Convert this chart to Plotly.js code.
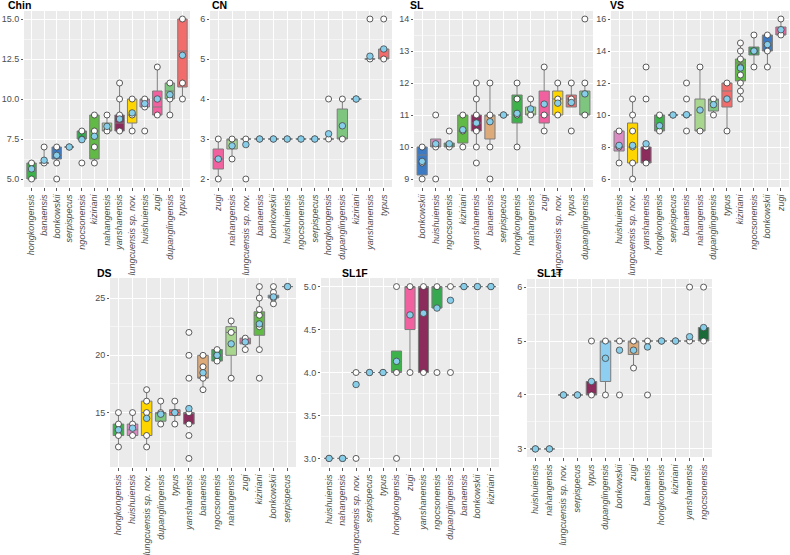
<!DOCTYPE html>
<html><head><meta charset="utf-8">
<script src="https://cdn.plot.ly/plotly-3.0.1.min.js"></script>
<style>html,body{margin:0;padding:0;background:#fff}#chart{width:790px;height:555px}</style>
</head><body><div id="chart"></div>
<script>
// ---------------- DATA ----------------
const chinCats = ['hongkongensis','banaensis','bonkowskii','serpispecus','ngocsonensis','kiziriani','nahangensis','yanshanensis','lungcuensis sp. nov.','huishuiensis','zugi','dupanglingensis','typus'];
const chinQ1   = [5, 6, 6.25, 7, 7.5, 6.25, 8, 8, 8.5, 9.5, 9, 10, 10.75];
const chinMed  = [5.5, 6, 6.5, 7, 8, 8, 8, 8.5, 9, 10, 9.5, 10.5, 13];
const chinQ3   = [6, 6, 7, 7, 8, 9, 8.5, 9, 10, 10, 10.5, 11, 15];
const chinLo   = [5, 6, 6, 7, 7.5, 6, 8, 8, 8, 9.5, 9, 9, 10];
const chinHi   = [6, 7, 7, 7, 8, 9, 9, 11, 10, 10, 12, 11, 15];
const chinMean = [5.63, 6.17, 6.48, 7, 7.46, 7.67, 8.29, 8.75, 9.13, 9.71, 10, 10.27, 12.73];
const chinPts  = [[5,6],[6,7],[5,6,7],[7],[6,7.5,8],[6,7,8,9],[8,9],[8,9,10,11],[8,9,10],[8,9.5,10],[9,12],[9,10,11],[10,11,15]];

const cnCats = ['zugi','nahangensis','lungcuensis sp. nov.','banaensis','bonkowskii','huishuiensis','ngocsonensis','serpispecus','hongkongensis','dupanglingensis','kiziriani','yanshanensis','typus'];
const cnQ1   = [2.25, 2.75, 3, 3, 3, 3, 3, 3, 3, 3, 4, 5, 5];
const cnMed  = [2.5, 3, 3, 3, 3, 3, 3, 3, 3, 3, 4, 5, 5];
const cnQ3   = [2.75, 3, 3, 3, 3, 3, 3, 3, 3, 3.75, 4, 5, 5.25];
const cnLo   = [2, 2.5, 3, 3, 3, 3, 3, 3, 3, 3, 4, 5, 5];
const cnHi   = [3, 3, 3, 3, 3, 3, 3, 3, 3, 4, 4, 5, 5.25];
const cnMean = [2.5, 2.83, 2.86, 3, 3, 3, 3, 3, 3.13, 3.33, 4, 5.07, 5.25];
const cnPts  = [[2,3],[2.5,3],[2,3],[3],[3],[3],[3],[3],[3,4],[3,4],[4],[5,6],[5,6]];

const slCats = ['bonkowskii','huishuiensis','ngocsonensis','kiziriani','yanshanensis','banaensis','serpispecus','hongkongensis','nahangensis','zugi','lungcuensis sp. nov.','typus','dupanglingensis'];
const slQ1   = [9.125, 10, 10, 10.125, 10.5, 10.25, 11, 10.75, 11, 10.75, 11, 11.25, 11];
const slMed  = [9.75, 10, 10, 10.5, 10.75, 11, 11, 11, 11, 11, 11.5, 11.5, 11];
const slQ3   = [10, 10.25, 10.125, 11, 11, 11, 11, 11.625, 11.25, 11.75, 11.75, 11.625, 11.75];
const slLo   = [9, 10, 10, 10, 10, 10, 11, 10, 11, 10.5, 11, 11.25, 11];
const slHi   = [10, 10.25, 10.125, 11, 12, 12, 11, 12, 11.5, 12.5, 12, 12, 12];
const slMean = [9.55, 10.1, 10.1, 10.54, 10.75, 10.79, 11, 11.05, 11.19, 11.34, 11.37, 11.39, 11.66];
const slPts  = [[9,9.5,10],[9,10,11],[10,10.5],[10,10.5,11],[9.5,10,10.5,11,11.5,12],[9,10,11,12],[11],[10,11,11.5,12],[11,11.5],[10.5,11,12.5],[11,11.5,12],[10.5,11.5,12],[11,12,14]];

const vsCats = ['huishuiensis','lungcuensis sp. nov.','yanshanensis','hongkongensis','serpispecus','banaensis','nahangensis','dupanglingensis','typus','kiziriani','ngocsonensis','bonkowskii','zugi'];
const vsQ1   = [7.75, 7, 7, 9, 10, 10, 9, 10.25, 10.5, 12.125, 13.75, 14, 15];
const vsMed  = [8, 8, 7, 9, 10, 10, 9, 11, 11.5, 13.25, 14, 14.5, 15];
const vsQ3   = [9, 9.5, 8, 10, 10, 10, 11, 11, 12, 13.5, 14.25, 15, 15.5];
const vsLo   = [7, 6, 7, 9, 10, 10, 9, 10, 9, 11, 13, 13, 15];
const vsHi   = [9, 11, 8, 10, 10, 10, 13, 11, 12, 14.5, 15, 15, 16];
const vsMean = [8.1, 8.1, 8.2, 9.33, 10, 10.02, 10.31, 10.65, 11, 12.94, 14, 14.4, 15.33];
const vsPts  = [[7,8,9],[6,7,8,9,10,11],[7,8,11,13],[9,10],[10],[9,10,11,12],[9,13],[10,11],[9,12],[11,11.5,12,12.5,13,13.5,14,14.5],[13,14,15],[13,14,15],[15,16]];

const dsCats = ['hongkongensis','huishuiensis','lungcuensis sp. nov.','dupanglingensis','typus','yanshanensis','banaensis','ngocsonensis','nahangensis','zugi','kiziriani','bonkowskii','serpispecus'];
const dsQ1   = [13, 13, 13, 14.25, 14.75, 14, 18, 19.5, 20, 21, 21.75, 25, 26];
const dsMed  = [13.5, 13.5, 15, 15, 15, 15, 18, 20, 22, 21, 23.5, 25, 26];
const dsQ3   = [14, 14, 16, 15, 15.25, 15, 20, 20.5, 22.5, 21.5, 23.8, 25.25, 26];
const dsLo   = [12, 13, 12, 14, 14, 14, 17, 19.5, 18, 20.5, 20.5, 24.5, 26];
const dsHi   = [15, 15, 17, 16, 16, 15, 20, 20.5, 23, 21.5, 26, 25.5, 26];
const dsMean = [13.5, 13.64, 14.5, 14.86, 15, 15.35, 18.48, 20, 21, 21.17, 22.74, 25.1, 26];
const dsPts  = [[12,13,14,15],[13,14,15],[12,13,15,16,17],[14,15,16],[14,15,16],[11,13,14,15,18,20,22],[17,18,19,20],[19.5,20,20.5],[18,22,23],[20.5,21.5],[18,20.5,22.5,23.5,24,25,26],[24.5,25,25.5,26],[26]];

const sl1fCats = ['huishuiensis','nahangensis','lungcuensis sp. nov.','serpispecus','typus','hongkongensis','zugi','yanshanensis','ngocsonensis','dupanglingensis','banaensis','bonkowskii','kiziriani'];
const sl1fQ1   = [3, 3, 4, 4, 4, 4, 4.5, 4, 4.75, 5, 5, 5, 5];
const sl1fMed  = [3, 3, 4, 4, 4, 4, 5, 5, 5, 5, 5, 5, 5];
const sl1fQ3   = [3, 3, 4, 4, 4, 4.25, 5, 5, 5, 5, 5, 5, 5];
const sl1fLo   = [3, 3, 4, 4, 4, 4, 4, 4, 4.75, 5, 5, 5, 5];
const sl1fHi   = [3, 3, 4, 4, 4, 4.25, 5, 5, 5, 5, 5, 5, 5];
const sl1fMean = [3, 3, 3.86, 4, 4, 4.13, 4.67, 4.69, 4.75, 4.84, 5, 5, 5];
const sl1fPts  = [[3],[3],[3,4],[4],[4],[3,4,5],[4,5],[4,5],[4,5],[4,5],[5],[5],[5]];

const sl1tCats = ['huishuiensis','nahangensis','lungcuensis sp. nov.','serpispecus','typus','dupanglingensis','bonkowskii','zugi','banaensis','hongkongensis','kiziriani','yanshanensis','ngocsonensis'];
const sl1tQ1   = [3, 3, 4, 4, 4, 4.25, 5, 4.75, 5, 5, 5, 5, 5];
const sl1tMed  = [3, 3, 4, 4, 4, 5, 5, 5, 5, 5, 5, 5, 5];
const sl1tQ3   = [3, 3, 4, 4, 4.25, 5, 5, 5, 5, 5, 5, 5, 5.25];
const sl1tLo   = [3, 3, 4, 4, 4, 4, 5, 4.5, 5, 5, 5, 5, 5];
const sl1tHi   = [3, 3, 4, 4, 4.25, 5, 5, 5, 5, 5, 5, 5, 5.25];
const sl1tMean = [3, 3, 4, 4, 4.25, 4.68, 4.83, 4.83, 4.89, 5, 5, 5.08, 5.25];
const sl1tPts  = [[3],[3],[4],[4],[4,5],[4,5],[4,5],[4.5,5],[4,5],[5],[5],[5,6],[5,6]];

// ---------------- STYLE ----------------
const palette = {
  'hongkongensis':'#3DB24B','banaensis':'#DDAA7A','bonkowskii':'#3C7BC4','serpispecus':'#B0B0B0',
  'ngocsonensis':'#36A850','kiziriani':'#62BA46','nahangensis':'#A9D68F','yanshanensis':'#8B2C5D',
  'lungcuensis sp. nov.':'#FFD500','huishuiensis':'#D98BC2','zugi':'#F2619F','dupanglingensis':'#7EC680','typus':'#F36C6C'
};
const sl1tPalette = Object.assign({}, palette, {'typus':'#8B2C5D','dupanglingensis':'#8ECEF0','zugi':'#DDAA7A','ngocsonensis':'#1B6B38'});

const W = 790, H = 555;
const panels = [
  {t:'Chin', cats:chinCats, q1:chinQ1, med:chinMed, q3:chinQ3, lo:chinLo, hi:chinHi, mean:chinMean, pts:chinPts, pal:palette, xp:[24,190], yp:[11,187], yr:[4.5,15.5], dt:2.5, fmt:'.1f', tp:[6,5]},
  {t:'CN', cats:cnCats, q1:cnQ1, med:cnMed, q3:cnQ3, lo:cnLo, hi:cnHi, mean:cnMean, pts:cnPts, pal:palette, xp:[210,392], yp:[11,187], yr:[1.8,6.2], dt:1, fmt:'', tp:[210,5]},
  {t:'SL', cats:slCats, q1:slQ1, med:slMed, q3:slQ3, lo:slLo, hi:slHi, mean:slMean, pts:slPts, pal:palette, xp:[414,593], yp:[11,187], yr:[8.75,14.25], dt:1, fmt:'', tp:[408,5]},
  {t:'VS', cats:vsCats, q1:vsQ1, med:vsMed, q3:vsQ3, lo:vsLo, hi:vsHi, mean:vsMean, pts:vsPts, pal:palette, xp:[611,789], yp:[11,187], yr:[5.5,16.5], dt:2, fmt:'', tp:[608,5]},
  {t:'DS', cats:dsCats, q1:dsQ1, med:dsMed, q3:dsQ3, lo:dsLo, hi:dsHi, mean:dsMean, pts:dsPts, pal:palette, xp:[110,296], yp:[278,467], yr:[10.25,26.75], dt:5, fmt:'', tp:[95,273]},
  {t:'SL1F', cats:sl1fCats, q1:sl1fQ1, med:sl1fMed, q3:sl1fQ3, lo:sl1fLo, hi:sl1fHi, mean:sl1fMean, pts:sl1fPts, pal:palette, xp:[321,499], yp:[278,467], yr:[2.9,5.1], dt:0.5, fmt:'.1f', tp:[340,273]},
  {t:'SL1T', cats:sl1tCats, q1:sl1tQ1, med:sl1tMed, q3:sl1tQ3, lo:sl1tLo, hi:sl1tHi, mean:sl1tMean, pts:sl1tPts, pal:sl1tPalette, xp:[527,712], yp:[279,457], yr:[2.85,6.15], dt:1, fmt:'', tp:[535,273]}
];

const traces = [];
const layout = {
  width:W, height:H, margin:{l:0,r:0,t:0,b:0,pad:0},
  paper_bgcolor:'#FFFFFF', plot_bgcolor:'#EBEBEB', showlegend:false, boxmode:'overlay',
  font:{family:'Liberation Sans, Arial, sans-serif'}, annotations:[]
};
const tickFontX = {family:'Liberation Sans, Arial, sans-serif', size:9, color:'#4D4D4D', style:'italic'};
const tickFontY = {family:'Liberation Sans, Arial, sans-serif', size:9, color:'#4D4D4D'};

panels.forEach((p, i) => {
  const n = i + 1;
  const xa = n === 1 ? 'x' : 'x' + n;
  const ya = n === 1 ? 'y' : 'y' + n;
  p.cats.forEach((c, j) => {
    traces.push({
      type:'box', xaxis:xa, yaxis:ya, x:[c],
      q1:[p.q1[j]], median:[p.med[j]], q3:[p.q3[j]], lowerfence:[p.lo[j]], upperfence:[p.hi[j]],
      fillcolor:p.pal[c], line:{color:'#7C7C7C', width:1}, width:0.75, whiskerwidth:0,
      boxpoints:false, hoverinfo:'skip'
    });
  });
  const px = [], py = [];
  p.pts.forEach((arr, j) => arr.forEach(v => { px.push(p.cats[j]); py.push(v); }));
  traces.push({type:'scatter', mode:'markers', xaxis:xa, yaxis:ya, x:px, y:py, hoverinfo:'skip',
    marker:{color:'#FFFFFF', size:6, line:{color:'#333333', width:0.8}}});
  traces.push({type:'scatter', mode:'markers', xaxis:xa, yaxis:ya, x:p.cats, y:p.mean, hoverinfo:'skip',
    marker:{color:'#87CEEB', size:6.5, line:{color:'#444444', width:0.8}}});

  layout['xaxis' + (n === 1 ? '' : n)] = {
    domain:[p.xp[0]/W, p.xp[1]/W], anchor:ya, type:'category', categoryorder:'array', categoryarray:p.cats,
    range:[-0.6, p.cats.length - 0.4], tickangle:-90, tickfont:tickFontX,
    showgrid:true, gridcolor:'#FFFFFF', gridwidth:1, ticks:'outside', ticklen:3, tickcolor:'#333333', tickwidth:0.8,
    showline:false, zeroline:false, fixedrange:true
  };
  layout['yaxis' + (n === 1 ? '' : n)] = {
    domain:[1 - p.yp[1]/H, 1 - p.yp[0]/H], anchor:xa, range:p.yr, tick0:0, dtick:p.dt, tickformat:p.fmt,
    tickfont:tickFontY, showgrid:true, gridcolor:'#FFFFFF', gridwidth:1,
    minor:{showgrid:true, gridcolor:'#FFFFFF', gridwidth:0.5, tick0:0, dtick:p.dt/2},
    ticks:'outside', ticklen:2, tickcolor:'#333333', tickwidth:0.8, showline:false, zeroline:false, fixedrange:true
  };
  layout.annotations.push({xref:'paper', yref:'paper', x:p.tp[0]/W, y:1 - p.tp[1]/H, xanchor:'left', yanchor:'middle',
    text:'<b>' + p.t + '</b>', showarrow:false, font:{size:10.5, color:'#000000', family:'Liberation Sans, Arial, sans-serif'}});
});

Plotly.newPlot('chart', traces, layout, {displayModeBar:false, staticPlot:true});
</script>
</body></html>
